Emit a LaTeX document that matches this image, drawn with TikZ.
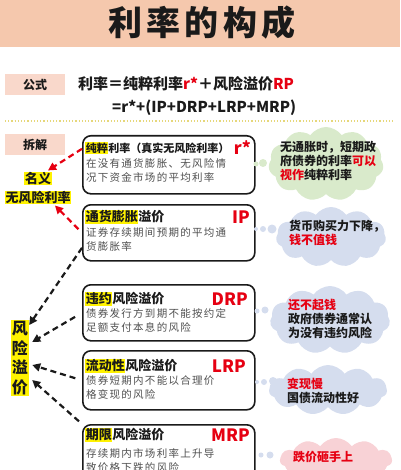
\documentclass[tikz,border=0pt]{standalone}
\usepackage{fontspec}
\setmainfont{Noto Sans CJK SC}
\newfontfamily\titlefont[LetterSpace=12]{Noto Sans CJK SC}
\newfontfamily\descfont[LetterSpace=12]{Noto Sans CJK SC}
\usetikzlibrary{positioning, calc, arrows.meta, shapes.symbols}
\definecolor{Banner}{HTML}{F5C8AD}
\definecolor{Tag}{HTML}{F9D8CB}
\definecolor{Mark}{HTML}{FFF200}
\definecolor{Alert}{HTML}{E60012}
\definecolor{Ink}{HTML}{1A1A1A}
\definecolor{Soft}{HTML}{505050}
\definecolor{CloudGreen}{HTML}{D9EACB}
\definecolor{CloudBlue}{HTML}{D5DDEE}
\definecolor{CloudPink}{HTML}{F8D2D6}
\definecolor{Dots}{HTML}{E6D77A}
\newcommand{\hlt}[1]{{\setlength{\fboxsep}{0.6pt}\colorbox{Mark}{#1}}}
\tikzset{
    tagbox/.style={rectangle, fill=Tag, minimum width=60pt, minimum height=21pt, font=\bfseries\fontsize{12}{14}\selectfont, text=Ink},
    card/.style={rectangle, rounded corners=8pt, draw=Ink, line width=1.6pt, fill=white, minimum width=172pt, anchor=north west},
    cardtitle/.style={anchor=west, inner sep=0pt, text=Ink},
    cardcode/.style={anchor=east, inner sep=0pt, font=\bfseries\fontsize{17}{19}\selectfont, text=Alert},
    carddesc/.style={anchor=north west, inner sep=0pt, align=left, font=\descfont\fontsize{10.5}{14.5}\selectfont, text=Soft},
    puff/.style={cloud, cloud puffs=11, cloud puff arc=110, inner sep=0pt},
    bubble/.style={circle, inner sep=0pt},
    cloudtext/.style={anchor=west, align=left, inner sep=0pt, font=\bfseries\fontsize{12}{14}\selectfont, text=Ink},
    redarrow/.style={-{Triangle[length=8pt,width=8pt]}, line width=2.2pt, dash pattern=on 6pt off 4pt, color=Alert},
    blackarrow/.style={-{Triangle[length=8pt,width=8pt]}, line width=2.2pt, dash pattern=on 6pt off 4pt, color=Ink},
}
\begin{document}
\begin{tikzpicture}[x=1pt, y=-1pt]
    \useasboundingbox (0,0) rectangle (400,470);
    \clip (0,0) rectangle (400,470);
    % Titolo
    \fill[Banner] (0,0) rectangle (400,47);
    \node[font=\titlefont\bfseries\fontsize{34}{36}\selectfont, text=Ink] (title) at (202,23) {利率的构成};

    % Formula
    \node[tagbox] (formulaTag) at (35,85) {公式};
    \node[anchor=west, inner sep=0pt, font=\bfseries\fontsize{15}{17}\selectfont, text=Ink] (formulaA) at (78,84)
        {利率＝纯粹利率\textcolor{Alert}{r*}＋风险溢价\textcolor{Alert}{RP}};
    \node[anchor=west, inner sep=0pt, font=\bfseries\fontsize{15}{17}\selectfont, text=Ink] (formulaB) at (112,108)
        {=r*+(IP+DRP+LRP+MRP)};
    \draw[Dots, line width=1.2pt, dotted] (5,121) -- (394,121);

    % Scomposizione
    \node[tagbox] (splitTag) at (35,145) {拆解};
    \foreach \nm/\yt/\h/\ts/\ty/\hl/\rest/\code/\cx/\dy/\da/\db in {
        pure/135/58/11/148/纯粹/利率（真实无风险利率）/r*/251/158/在没有通货膨胀、无风险情/况下资金市场的平均利率,
        infl/204/56/13/217/通货膨胀/溢价/IP/250/227/证券存续期间预期的平均通/货膨胀率,
        dflt/284/56/13/299/违约/风险溢价/DRP/248/308/债券发行方到期不能按约定/足额支付本息的风险,
        liq/350/59/13/366/流动性/风险溢价/LRP/246/375/债券短期内不能以合理价/格变现的风险,
        mat/424/60/13/435/期限/风险溢价/MRP/250/448/存续期内市场利率上升导/致价格下跌的风险} {
        \node[card, minimum height=\h pt] (\nm) at (82,\yt) {};
        \node[cardtitle, font=\bfseries\fontsize{\ts}{15}\selectfont] at (85,\ty) {\hlt{\hl}\rest};
        \node[cardcode] at (\cx,\ty) {\code};
        \node[carddesc] at (86,\dy) {\da\\\db};
    }

    % Etichette a sinistra
    \node[align=center, inner sep=1pt, font=\bfseries\fontsize{13}{19}\selectfont, text=Ink] (nominal) at (38,188)
        {\hlt{名义}\\\hlt{无风险利率}};
    \node[align=center, fill=Mark, inner sep=1pt, font=\bfseries\fontsize{16}{19.5}\selectfont, text=Ink] (riskp) at (20,358)
        {风\\险\\溢\\价};

    % Frecce
    \draw[redarrow] ([yshift=16pt]pure.west) -- ([xshift=10pt]nominal.north);
    \draw[redarrow, shorten <=5pt] (infl.west) -- ([xshift=17pt]nominal.south);
    \draw[blackarrow] ([yshift=-15pt]infl.west) -- ([yshift=33pt]riskp.east);
    \draw[blackarrow, shorten <=8pt] (dflt.west) -- ([yshift=16pt,xshift=3pt]riskp.east);
    \draw[blackarrow, shorten <=7pt] (liq.west) -- ([yshift=-7pt,xshift=3pt]riskp.east);
    \draw[blackarrow, shorten <=4pt] (mat.north west) -- ([yshift=-22pt,xshift=3pt]riskp.east);

    % Nuvole
    \foreach \nm/\x/\y/\w/\h/\col in {cloudPure/326/164/115/74/CloudGreen, cloudInfl/331/237/110/60/CloudBlue,
        cloudDflt/330/320/120/68/CloudBlue, cloudLiq/328/390/118/50/CloudBlue, cloudMat/336/460/112/44/CloudPink} {
        \node[puff, fill=\col, minimum width=\w pt, minimum height=\h pt] (\nm) at (\x,\y) {};
    }
    \foreach \x/\y/\r/\col in {256/164/2.5/CloudGreen, 263/163/4/CloudGreen,
        256/229/2/CloudBlue, 263/229/3/CloudBlue, 272/229/4.5/CloudBlue,
        257/311/2.5/CloudBlue, 265/310/3.5/CloudBlue,
        257/382/2/CloudBlue, 264/382/3/CloudBlue, 273/381/4/CloudBlue,
        261/455/2.5/CloudBlue, 270/455/3.5/CloudBlue} {
        \node[bubble, fill=\col, minimum size=2*\r pt] at (\x,\y) {};
    }
    \node[cloudtext] (notePure) at (280,161)
        {无通胀时，短期政\\府债券的利率\textcolor{Alert}{可以}\\\textcolor{Alert}{视作}纯粹利率};
    \node[cloudtext] (noteInfl) at (289,233) {货币购买力下降，\\\textcolor{Alert}{钱不值钱}};
    \node[cloudtext] (noteDflt) at (288,319) {\textcolor{Alert}{还不起钱}\\政府债券通常认\\为没有违约风险};
    \node[cloudtext] (noteLiq) at (287,391) {\textcolor{Alert}{变现慢}\\国债流动性好};
    \node[cloudtext, text=Alert] (noteMat) at (293,457) {跌价砸手上};
\end{tikzpicture}
\end{document}
